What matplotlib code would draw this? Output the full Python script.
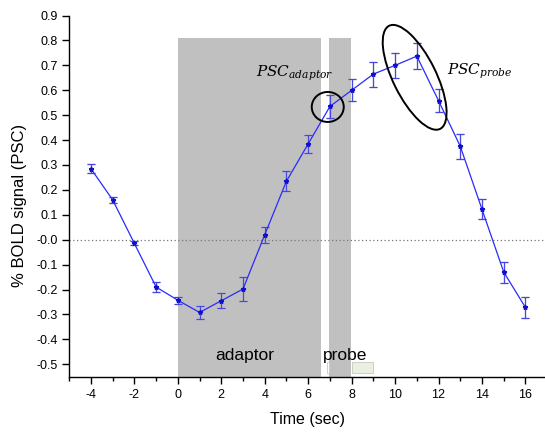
import matplotlib
matplotlib.use("Agg")
import matplotlib.pyplot as plt
from matplotlib.patches import Rectangle, Ellipse
from matplotlib.transforms import ScaledTranslation
import numpy as np

plt.rcParams["font.family"] = ["Liberation Sans", "DejaVu Sans"]
plt.rcParams["mathtext.fontset"] = "dejavuserif"
plt.rcParams["axes.unicode_minus"] = False

# time course (sec) and percent signal change
time_s = [-4, -3, -2, -1, 0, 1, 2, 3, 4, 5, 6, 7, 8, 9, 10, 11, 12, 13, 14, 15, 16]
psc = [0.285, 0.16, -0.015, -0.19, -0.243, -0.292, -0.245, -0.198, 0.02, 0.235, 0.385,
       0.535, 0.600, 0.665, 0.700, 0.737, 0.558, 0.375, 0.122, -0.130, -0.272]
psc_err = [0.019, 0.013, 0.008, 0.019, 0.015, 0.025, 0.030, 0.047, 0.033, 0.040, 0.037,
           0.048, 0.045, 0.050, 0.050, 0.053, 0.047, 0.050, 0.040, 0.042, 0.042]

# stimulus blocks: (start, end)
adaptor_block = (0.0, 6.57)
probe_block = (6.97, 7.97)
block_top = 0.81

fig = plt.figure(figsize=(5.45, 4.32), dpi=100)
ax = fig.add_axes([0.127, 0.128, 0.873, 0.836])
ax.set_xlim(-5, 16.9)
ax.set_ylim(-0.55, 0.9)

gray = "#c0c0c0"
for (x0, x1) in (adaptor_block, probe_block):
    ax.add_patch(Rectangle((x0, -0.55), x1 - x0, block_top + 0.55,
                           facecolor=gray, edgecolor="none", zorder=1))
# little legend-like boxes near the bottom
ax.add_patch(Rectangle((8.02, -0.535), 0.95, 0.045, facecolor="#eaf0e0",
                       edgecolor="#c8c8c8", lw=0.6, zorder=2))
ax.add_patch(Rectangle((6.85, -0.535), 0.12, 0.045, facecolor="white",
                       edgecolor="#c8c8c8", lw=0.6, zorder=2))

ax.axhline(0, color="#777777", lw=0.9, ls=(0, (1, 2)), zorder=2)

ax.errorbar(time_s, psc, yerr=psc_err, fmt="none", ecolor="#9a9ac8", elinewidth=1.0,
            capsize=3, capthick=1.0, zorder=3)
ax.errorbar(time_s, psc, yerr=psc_err, fmt="none", ecolor="#3a3ae6", elinewidth=0.8,
            capsize=2.6, capthick=0.8, alpha=0.85, zorder=4)
ax.plot(time_s, psc, color="#2a2aff", lw=0.9, marker="*", ms=3.5, mec="#1010cc",
        mfc="#1010cc", zorder=5)

ax.text(3.1, -0.465, "adaptor", fontsize=12.5, ha="center", va="center", zorder=6)
ax.text(7.7, -0.465, "probe", fontsize=12.5, ha="center", va="center", zorder=6)
ax.text(3.6, 0.655, r"$PSC_{adaptor}$", fontsize=11, ha="left", va="baseline", zorder=6)
ax.text(12.4, 0.662, r"$PSC_{probe}$", fontsize=11, ha="left", va="baseline", zorder=6)

# ellipses drawn in inches around a data anchor so their shape is not distorted
def ring(cx, cy, w_px, h_px, angle):
    tr = fig.dpi_scale_trans + ScaledTranslation(cx, cy, ax.transData)
    ax.add_patch(Ellipse((0, 0), w_px / 100, h_px / 100, angle=angle, transform=tr,
                         fill=False, edgecolor="black", lw=1.4, zorder=6))

ring(6.9, 0.533, 32, 30, 0)
ring(10.9, 0.652, 115, 43, -63.7)

ax.set_xticks(np.arange(-4, 17, 2))
ax.set_xticks(np.arange(-5, 17, 1), minor=True)
ax.set_yticks(np.round(np.arange(-0.5, 0.91, 0.1), 1))
ax.set_yticklabels([f"{v:.1f}" for v in np.arange(-0.5, 0.91, 0.1)])
ax.tick_params(axis="both", which="major", labelsize=9, length=5, width=1, direction="out")
ax.tick_params(axis="x", which="minor", length=3, width=1, direction="out")
for s in ("top", "right"):
    ax.spines[s].set_visible(False)
ax.spines["left"].set_linewidth(1.0)
ax.spines["bottom"].set_linewidth(1.0)

ax.set_xlabel("Time (sec)", fontsize=11.5, labelpad=8)
ax.set_ylabel("% BOLD signal (PSC)", fontsize=12)
ax.yaxis.set_label_coords(-0.088, 0.473)

fig.savefig("out.png", dpi=100)
